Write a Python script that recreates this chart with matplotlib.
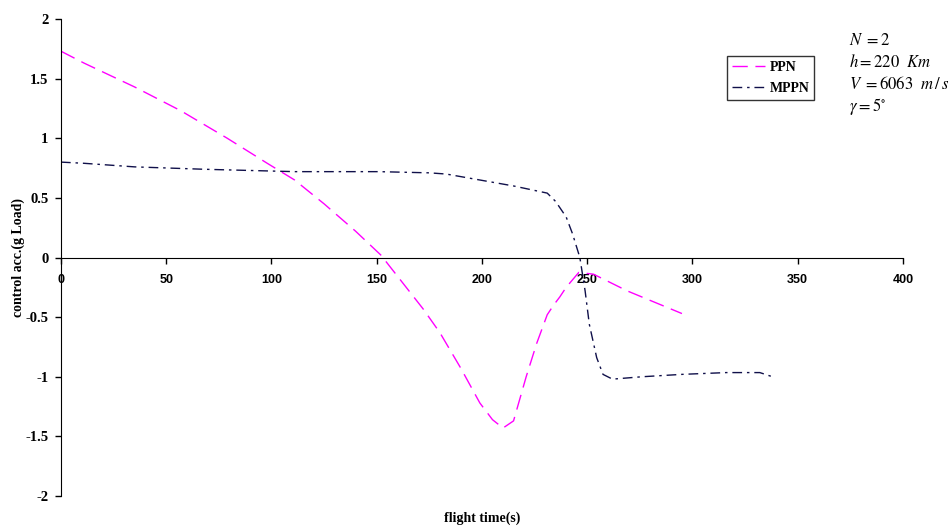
import numpy as np
import matplotlib
matplotlib.use('Agg')
import matplotlib.pyplot as plt

plt.rcParams['mathtext.fontset'] = 'stix'

# PPN guidance command
ppn_t = [0, 11, 35, 57, 79, 98, 111, 125, 140, 152, 164, 172, 180, 190, 199, 205,
         210, 215, 221, 226, 231, 234, 237, 240, 246, 253, 269, 295]
ppn_a = [1.73, 1.63, 1.43, 1.23, 1.0, 0.79, 0.65, 0.45, 0.22, 0.02, -0.25, -0.43,
         -0.63, -0.93, -1.22, -1.36, -1.43, -1.37, -1.0, -0.72, -0.48, -0.40, -0.33,
         -0.25, -0.125, -0.14, -0.28, -0.47]

# MPPN guidance command
mppn_t = [0, 11, 35, 68, 111, 151, 175, 183, 199, 215, 231, 235, 240, 243, 246.5,
          249, 251, 254.5, 257.5, 262, 276, 295, 316, 332, 338]
mppn_a = [0.80, 0.79, 0.76, 0.74, 0.72, 0.72, 0.71, 0.70, 0.65, 0.60, 0.54, 0.47,
          0.34, 0.2, 0.0, -0.28, -0.56, -0.84, -0.98, -1.02, -1.0, -0.98, -0.965,
          -0.965, -1.0]

params = [r'$N\ =2$', r'$h=220\ \ Km$', r'$V\ =6063\ \ m\,/\,s$', r'$\gamma=5^{\circ}$']

fig = plt.figure(figsize=(9.51, 5.31), dpi=100)
ax = fig.add_axes([0.0641, 0.0659, 0.8854, 0.8983])

ax.plot(ppn_t, ppn_a, color='#FF00FF', lw=1.0, dashes=(11, 5.5), label='PPN')
ax.plot(mppn_t, mppn_a, color='#10104a', lw=1.0, dashes=(7, 3.5, 1.8, 3.5), label='MPPN')

ax.set_xlim(0, 400)
ax.set_ylim(-2, 2)
ax.set_xticks(np.arange(0, 401, 50))
ax.set_yticks([-2, -1.5, -1, -0.5, 0, 0.5, 1, 1.5, 2])
ax.set_yticklabels(['-2', '-1.5', '-1', '-0.5', '0', '0.5', '1', '1.5', '2'])

ax.spines['right'].set_visible(False)
ax.spines['top'].set_visible(False)
ax.spines['bottom'].set_position(('data', 0))
ax.tick_params(direction='out', length=4, width=1)
ax.tick_params(axis='x', pad=8)
ax.tick_params(axis='y', pad=5)
for lab in ax.get_xticklabels():
    lab.set_fontfamily('Liberation Sans')
    lab.set_fontweight('bold')
    lab.set_fontsize(9)
for lab in ax.get_yticklabels():
    lab.set_fontfamily('Liberation Serif')
    lab.set_fontweight('bold')
    lab.set_fontsize(10.5)

fig.text(0.507, 0.012, 'flight time(s)', ha='center', va='bottom',
         family='Liberation Serif', weight='bold', fontsize=10)
fig.text(0.012, 0.515, 'control acc.(g Load)', ha='left', va='center', rotation=90,
         family='Liberation Serif', weight='bold', fontsize=10)

leg = ax.legend(loc='upper left', bbox_to_anchor=(0.791, 0.922), frameon=True,
                fancybox=False, edgecolor='black', handlelength=2.4,
                prop={'family': 'Liberation Serif', 'weight': 'bold', 'size': 10},
                borderpad=0.35, labelspacing=0.55, handletextpad=0.3,
                borderaxespad=0)
leg.get_frame().set_linewidth(1.0)

for i, s in enumerate(params):
    fig.text(0.893, 0.925 - i * 0.042, s, ha='left', va='center', fontsize=12)

fig.savefig('out.png', dpi=100)
